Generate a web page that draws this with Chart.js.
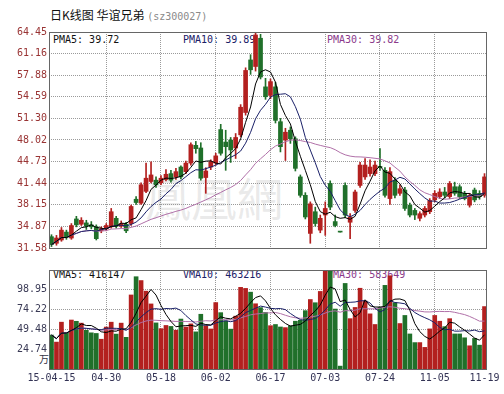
<!DOCTYPE html>
<html lang="zh">
<head>
<meta charset="UTF-8">
<title>日K线图 华谊兄弟</title>
<script src="https://cdn.jsdelivr.net/npm/chart.js"></script>
<style>
  body { margin: 0; background: #fff; }
  #wrap { position: relative; width: 504px; height: 394px; overflow: hidden; }
  .t { position: absolute; white-space: nowrap; font-family: "DejaVu Sans Mono", monospace; font-size: 10px; line-height: 12px; z-index: 1; }
  canvas { position: absolute; left: 0; z-index: 2; }
</style>
</head>
<body>
<div id="wrap">
  <div class="t" style="left:50px;top:7px;font-family:'Noto Sans CJK SC';font-size:12px;line-height:16px;color:#111">日K线图 华谊兄弟 <span style="color:#8a8a8a;font-family:'DejaVu Sans Mono';font-size:10px">(sz300027)</span></div>
  <div class="t" style="left:145px;top:168px;font-family:'Noto Sans CJK TC';font-size:46px;line-height:56px;color:rgba(160,160,160,0.22)">鳳凰網</div>
  <div class="t" style="left:53px;top:34px;color:#111">PMA5: 39.72</div>
  <div class="t" style="left:183px;top:34px;color:#1a2068">PMA10: 39.89</div>
  <div class="t" style="left:327px;top:34px;color:#8b3a8b">PMA30: 39.82</div>
  <div class="t" style="left:53px;top:269px;color:#111">VMA5: 416147</div>
  <div class="t" style="left:183px;top:269px;color:#1a2068">VMA10: 463216</div>
  <div class="t" style="left:327px;top:269px;color:#8b3a8b">VMA30: 583649</div>
  <div class="t" style="left:39px;top:353px;font-family:'Noto Sans CJK SC';color:#334">万</div>
  <canvas id="price" width="504" height="262" style="top:0"></canvas>
  <canvas id="vol" width="504" height="132" style="top:262px"></canvas>
</div>

<script>
    // daily candles, 2015-04-15 .. 2015-11-19 (trading suspended mid Jul - Nov)
    var openP  = [33.3,32.3,32.8,34.0,33.1,36.0,35.2,35.4,35.1,34.8,34.2,34.5,34.8,36.1,34.9,35.2,35.3,39.0,38.4,40.2,
                  41.7,41.9,41.5,42.0,42.9,42.4,43.9,43.2,44.5,47.2,46.8,42.3,43.9,44.5,49.6,47.7,48.0,46.8,48.8,52.2,
                  60.2,59.2,63.5,56.1,54.8,56.1,50.8,48.0,49.5,48.2,42.4,39.6,33.8,37.1,34.3,36.6,41.4,35.6,34.05,41.1,
                  35.5,37.3,41.1,42.4,42.9,42.9,44.0,43.4,39.1,41.9,39.9,40.4,38.1,37.3,36.1,36.6,37.1,38.9,39.4,40.1,
                  39.4,40.9,40.9,39.9,38.1,40.4,39.9,39.6];
    var highP  = [33.6,33.5,34.7,34.3,35.3,36.4,36.2,35.8,35.6,35.1,34.8,35.3,37.6,36.4,35.7,35.5,38.1,39.4,41.5,44.5,
                  44.7,42.4,42.6,43.5,43.4,43.7,44.1,44.8,47.6,47.8,47.6,43.8,45.0,46.0,50.4,49.5,48.4,49.0,53.4,59.0,
                  61.0,64.45,64.1,57.4,57.3,56.8,51.3,49.8,50.0,48.5,42.7,40.0,38.6,37.8,36.6,38.6,41.8,36.6,34.05,41.5,
                  36.8,40.4,44.6,45.2,45.0,44.8,46.7,43.8,43.8,42.3,41.2,40.8,38.4,37.6,37.1,37.9,39.1,40.3,40.6,40.8,
                  41.7,41.6,41.2,40.2,39.9,40.7,40.3,42.9];
    var lowP   = [31.8,32.0,32.6,32.9,32.9,34.8,35.0,34.4,34.5,32.8,33.9,34.2,34.6,34.6,34.7,33.9,35.0,38.2,38.2,40.0,
                  41.5,40.8,41.2,41.8,41.6,42.0,42.1,42.9,44.2,46.0,41.9,39.9,43.5,44.2,45.7,43.4,44.6,45.2,48.5,51.8,
                  58.0,58.5,57.3,54.2,54.3,50.6,46.2,44.9,47.5,43.3,39.3,36.0,32.3,34.9,33.9,33.5,37.4,34.8,34.0,36.2,
                  33.0,37.0,40.8,42.0,42.5,42.6,43.4,39.3,38.2,39.2,39.6,37.3,36.3,35.9,35.7,36.3,36.8,38.6,39.1,39.2,
                  39.1,39.6,39.1,38.9,37.8,38.6,39.0,39.3];
    var closeP = [32.1,33.1,34.3,33.2,35.0,35.1,35.8,34.9,34.8,33.0,34.5,35.0,37.1,34.9,35.3,34.2,37.9,38.5,41.2,42.2,
                  42.7,41.2,42.2,42.8,41.9,43.2,42.4,44.5,47.3,46.7,42.2,43.3,44.7,45.6,46.0,47.0,46.5,48.4,53.0,58.6,
                  58.7,64.0,57.6,54.6,56.9,51.0,47.0,49.2,48.2,43.7,39.6,36.3,38.3,35.3,36.1,37.6,37.8,35.0,34.0,36.6,
                  36.3,40.1,44.2,44.2,43.9,44.2,43.8,39.6,43.2,39.6,40.6,37.6,36.6,36.6,36.8,37.6,38.8,39.9,40.1,39.6,
                  41.4,39.9,39.4,39.1,39.6,38.9,39.4,42.4];
    // volume, unit 万
    var volume = [42.4,33.6,58.5,45.2,61.2,59.6,57.3,48.4,45.2,44.4,37.2,52.4,58.5,43.6,57.3,39.6,92.5,115.3,110.5,97.3,
                  81.3,57.6,50.4,54.4,53.2,48.4,62.4,52.4,56.4,46.4,68.4,54.0,50.0,83.0,70.4,60.0,49.8,66.0,102.0,100.7,
                  96.0,81.5,76.7,70.7,54.1,55.6,52.5,51.7,54.0,59.7,60.9,72.9,86.8,82.8,96.9,122.0,123.5,74.9,3.6,106.9,
                  62.9,76.9,100.9,84.9,68.9,55.6,76.9,104.5,116.5,82.8,56.8,66.9,43.8,33.0,33.0,27.0,50.1,66.9,59.7,52.9,
                  62.9,43.8,43.8,39.0,29.0,38.2,29.8,78.0];

    var dateLabels = ['15-04-15', '04-30', '05-18', '06-02', '06-17', '07-03', '07-24', '11-05', '11-19'];
    var dateIdx = [0, 11, 22, 33, 44, 55, 66, 77, 87];
    var priceTicks = [31.58, 34.87, 38.15, 41.44, 44.73, 48.02, 51.30, 54.59, 57.88, 61.16, 64.45];
    var volTicks = [24.74, 49.48, 74.22, 98.95];
    var volMax = 123.69;

    var RED = '#b3201f', GREEN = '#20702a';
    var gridCol = '#9a9a9a';

    var labels = closeP.map(function (_, i) {
        var k = dateIdx.indexOf(i);
        return k >= 0 ? dateLabels[k] : '';
    });
    var colors = closeP.map(function (c, i) { return c >= openP[i] ? RED : GREEN; });
    var bodies = closeP.map(function (c, i) { return [openP[i], c]; });
    var wicks = closeP.map(function (_, i) { return [lowP[i], highP[i]]; });

    // moving average of the values available so far
    function ma(arr, n) {
        return arr.map(function (_, i) {
            var w = arr.slice(Math.max(0, i - n + 1), i + 1);
            return w.reduce(function (a, b) { return a + b; }, 0) / w.length;
        });
    }

    Chart.defaults.font.family = 'DejaVu Sans Mono';
    Chart.defaults.font.size = 10;

    var frame = {
        id: 'frame',
        afterDraw: function (c) {
            var a = c.chartArea, ctx = c.ctx;
            ctx.save();
            ctx.strokeStyle = '#666';
            ctx.lineWidth = 1;
            ctx.strokeRect(Math.round(a.left) + 0.5, Math.round(a.top) + 0.5,
                           Math.round(a.right - a.left) - 1, Math.round(a.bottom - a.top));
            ctx.restore();
        }
    };

    function xAxis(showLabels, h) {
        return {
            offset: true,
            afterFit: function (s) { s.height = h; },
            ticks: { display: showLabels, autoSkip: false, maxRotation: 0, minRotation: 0,
                     color: '#333355', padding: 3 },
            grid: {
                offset: false, drawTicks: false,
                color: function (c) {
                    return (c.index > 0 && c.index < 87 && dateIdx.indexOf(c.index) >= 0) ? gridCol : 'rgba(0,0,0,0)';
                }
            },
            border: { display: false, dash: [1, 1] }
        };
    }

    function yAxis(min, max, tickList, color) {
        return {
            min: min, max: max,
            afterBuildTicks: function (s) { s.ticks = tickList.map(function (v) { return { value: v }; }); },
            afterFit: function (s) { s.width = 49; },
            ticks: { color: color, padding: 2, callback: function (v) { return v.toFixed(2); } },
            grid: {
                drawTicks: false,
                color: function (c) {
                    return (c.tick && (c.tick.value === min || c.tick.value === max)) ? 'rgba(0,0,0,0)' : gridCol;
                }
            },
            border: { display: false, dash: [1, 1] }
        };
    }

    function line(data, color) {
        return { type: 'line', data: data, borderColor: color, borderWidth: 1, pointRadius: 0, fill: false, order: 0 };
    }

    var priceChart = new Chart(document.getElementById('price'), {
        type: 'bar',
        data: {
            labels: labels,
            datasets: [
                line(ma(closeP, 5), '#000000'),
                line(ma(closeP, 10), '#1a2068'),
                line(ma(closeP, 30), '#b070a8'),
                { data: bodies, backgroundColor: colors, barThickness: 4, minBarLength: 1, grouped: false, order: 1 },
                { data: wicks, backgroundColor: colors, barThickness: 1, grouped: false, order: 2 }
            ]
        },
        options: {
            responsive: false,
            animation: false,
            layout: { padding: { top: 32, right: 17, bottom: 14, left: 0 } },
            plugins: { legend: { display: false }, tooltip: { enabled: false } },
            scales: {
                x: xAxis(false, 0),
                y: yAxis(31.58, 64.45, priceTicks, '#993333')
            }
        },
        plugins: [frame]
    });

    var volChart = new Chart(document.getElementById('vol'), {
        type: 'bar',
        data: {
            labels: labels,
            datasets: [
                line(ma(volume, 5), '#000000'),
                line(ma(volume, 10), '#1a2068'),
                line(ma(volume, 30), '#b070a8'),
                { data: volume, backgroundColor: colors, barThickness: 4, grouped: false, order: 1 }
            ]
        },
        options: {
            responsive: false,
            animation: false,
            layout: { padding: { top: 4, right: 17, bottom: 0, left: 0 } },
            plugins: { legend: { display: false }, tooltip: { enabled: false } },
            scales: {
                x: xAxis(true, 25),
                y: yAxis(0, volMax, volTicks, '#3a3a55')
            }
        },
        plugins: [frame]
    });
</script>
</body>
</html>
